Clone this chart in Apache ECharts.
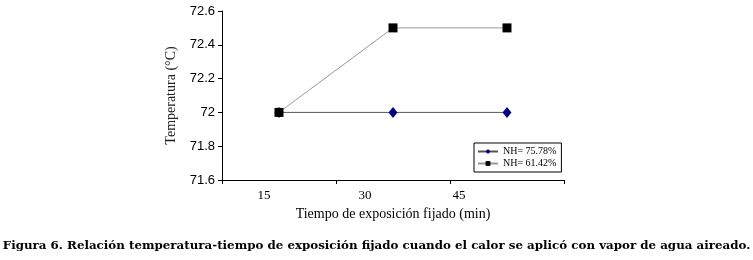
<!DOCTYPE html>
<html><head><meta charset="utf-8">
<script src="https://cdn.jsdelivr.net/npm/echarts@6/dist/echarts.min.js"></script>
<style>html,body{margin:0;padding:0;background:#fff}#c{width:753px;height:260px}</style>
</head><body><div id="c"></div>
<script>
var categories = ['15', '30', '45'];
var seriesNames = ['NH= 75.78%', 'NH= 61.42%'];
var nh7578 = [72.0, 72.0, 72.0];
var nh6142 = [72.0, 72.5, 72.5];
var yTicks = {min: 71.6, max: 72.6, interval: 0.2};
var titleText = 'Figura 6. Relación temperatura-tiempo de exposición fijado cuando el calor se aplicó con vapor de agua aireado.';
var xName = 'Tiempo de exposición fijado (min)';
var yName = 'Temperatura (°C)';

var labelShift = {'15': 'a', '30': 'b', '45': 'c'};
var chart = echarts.init(document.getElementById('c'), null, {renderer: 'canvas'});
chart.setOption({
  animation: false,
  backgroundColor: '#fff',
  title: {
    text: titleText, left: 'center', bottom: 3,
    textStyle: {fontFamily: 'DejaVu Serif', fontWeight: 'bold', fontSize: 11.85, color: '#000'}
  },
  grid: {left: 222, right: 189, top: 11, bottom: 80},
  legend: {
    orient: 'vertical', left: 474, top: 143,
    data: seriesNames,
    borderColor: '#000', borderWidth: 1, padding: [3, 5, 3, 3],
    itemWidth: 20, itemHeight: 6, itemGap: 1,
    textStyle: {fontFamily: 'Liberation Serif', fontSize: 10, lineHeight: 11, color: '#000'}
  },
  xAxis: {
    type: 'category', data: categories, boundaryGap: true,
    name: xName, nameLocation: 'middle', nameGap: 27,
    nameTextStyle: {fontFamily: 'Liberation Serif', fontSize: 14, color: '#000'},
    axisLine: {lineStyle: {color: '#000', width: 1}},
    axisTick: {show: true, length: 4, lineStyle: {color: '#000'}},
    axisLabel: {
      margin: 9,
      formatter: function (v) { return '{' + labelShift[v] + '|' + v + '}'; },
      rich: {
        a: {fontFamily: 'Liberation Serif', fontSize: 13, color: '#000', padding: [0, 30, 0, 0]},
        b: {fontFamily: 'Liberation Serif', fontSize: 13, color: '#000', padding: [0, 56, 0, 0]},
        c: {fontFamily: 'Liberation Serif', fontSize: 13, color: '#000', padding: [0, 96, 0, 0]}
      }
    },
    splitLine: {show: false}
  },
  yAxis: {
    type: 'value', min: yTicks.min, max: yTicks.max, interval: yTicks.interval,
    name: yName, nameLocation: 'middle', nameGap: 44,
    nameTextStyle: {fontFamily: 'Liberation Serif', fontSize: 14, color: '#222'},
    axisLine: {show: true, lineStyle: {color: '#000', width: 1}},
    axisTick: {show: true, length: 4, inside: false, lineStyle: {color: '#000'}},
    axisLabel: {
      margin: 7, fontFamily: 'Liberation Sans', fontSize: 13, color: '#000',
      formatter: function (v) { return String(Math.round(v * 10) / 10); }
    },
    splitLine: {show: false}
  },
  series: [
    {
      name: seriesNames[0], type: 'line', data: nh7578,
      symbol: 'diamond', symbolSize: [9, 11],
      itemStyle: {color: '#000080'},
      lineStyle: {color: '#555', width: 1},
      z: 2
    },
    {
      name: seriesNames[1], type: 'line', data: nh6142,
      symbol: 'rect', symbolSize: 9,
      itemStyle: {color: '#000'},
      lineStyle: {color: '#999', width: 1},
      z: 3
    }
  ]
});
</script></body></html>
